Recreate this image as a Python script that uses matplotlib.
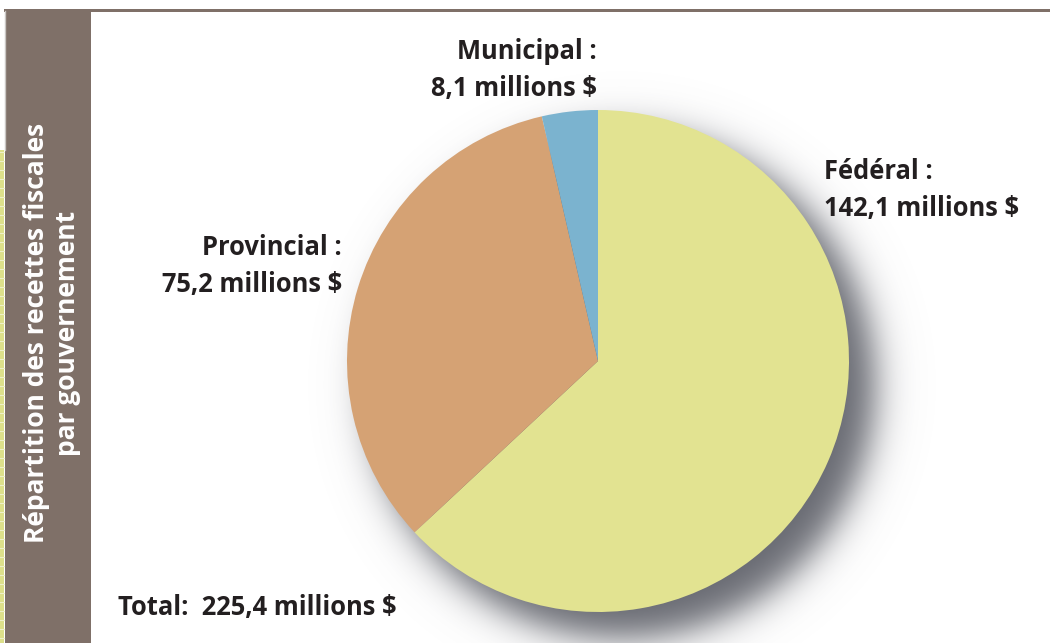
import numpy as np
import matplotlib
matplotlib.use("Agg")
import matplotlib.pyplot as plt
from matplotlib.patches import Rectangle

# data (millions $)
labels = ["Fédéral", "Provincial", "Municipal"]
values = [142.1, 75.2, 8.1]
colors = ["#e2e391", "#d5a274", "#7bb3cf"]
total = 225.4
side_title = "Répartition des recettes fiscales\npar gouvernement"

W, H = 1050, 643
plt.rcParams['font.family'] = ['Open Sans', 'DejaVu Sans']

fig = plt.figure(figsize=(W / 100, H / 100), dpi=100)
ax = fig.add_axes([0, 0, 1, 1])

cx, cy, r = 598, H - 361, 251

# soft drop shadow to lower right
xx, yy = np.meshgrid(np.arange(W) + 0.5, np.arange(H) + 0.5)
d = np.hypot(xx - (cx + 24), yy - (cy - 24)) - r
alpha = 1.0 / (1 + np.exp((d - 2) / 11.0))
shadow = np.zeros((H, W, 4))
shadow[..., 0] = 0.40
shadow[..., 1] = 0.41
shadow[..., 2] = 0.44
shadow[..., 3] = alpha
ax.imshow(shadow, extent=(0, W, 0, H), origin="lower", zorder=1, interpolation="bilinear")

wedges, _ = ax.pie(values, colors=colors, startangle=90, counterclock=False,
                   center=(cx, cy), radius=r, frame=True,
                   wedgeprops=dict(linewidth=0))
for w in wedges:
    w.set_zorder(2)

ax.set_xlim(0, W)
ax.set_ylim(0, H)
ax.set_aspect("auto")
ax.axis("off")

# frame decorations
ax.add_patch(Rectangle((5, 0), 86, H - 11, color="#7f7068", zorder=3, linewidth=0))
ax.add_patch(Rectangle((4, H - 11.5), W, 2.8, color="#7f7068", zorder=3, linewidth=0))
ax.add_patch(Rectangle((0, 0), 4, H - 150, color="#dde08a", zorder=3, linewidth=0))
for yv in np.arange(5, H - 150, 9):
    ax.plot([0, 4], [yv, yv], color="#eef0c8", lw=0.8, zorder=4)
ax.plot([4.5, 4.5], [H - 150, H - 11], color="#c9c6c3", lw=1, zorder=3)

ax.text(52, H - 333, side_title, rotation=90, ha="center", va="center",
        color="white", fontsize=19, fontweight="bold", linespacing=1.2, zorder=5)

def fmt(v):
    return f"{v:.1f}".replace(".", ",") + " millions $"

txt = dict(fontsize=18.4, fontweight="bold", color="#231f20", zorder=5, linespacing=1.5)
ax.text(824, H - 190, f"{labels[0]} :\n{fmt(values[0])}", ha="left", va="center", **txt)
ax.text(597, H - 70, f"{labels[2]} :\n{fmt(values[2])}", ha="right", va="center", **txt)
ax.text(342, H - 266, f"{labels[1]} :\n{fmt(values[1])}", ha="right", va="center", **txt)
ax.text(118, H - 608, "Total:  " + fmt(total), ha="left", va="center", **txt)

fig.savefig("out.png", dpi=100)
